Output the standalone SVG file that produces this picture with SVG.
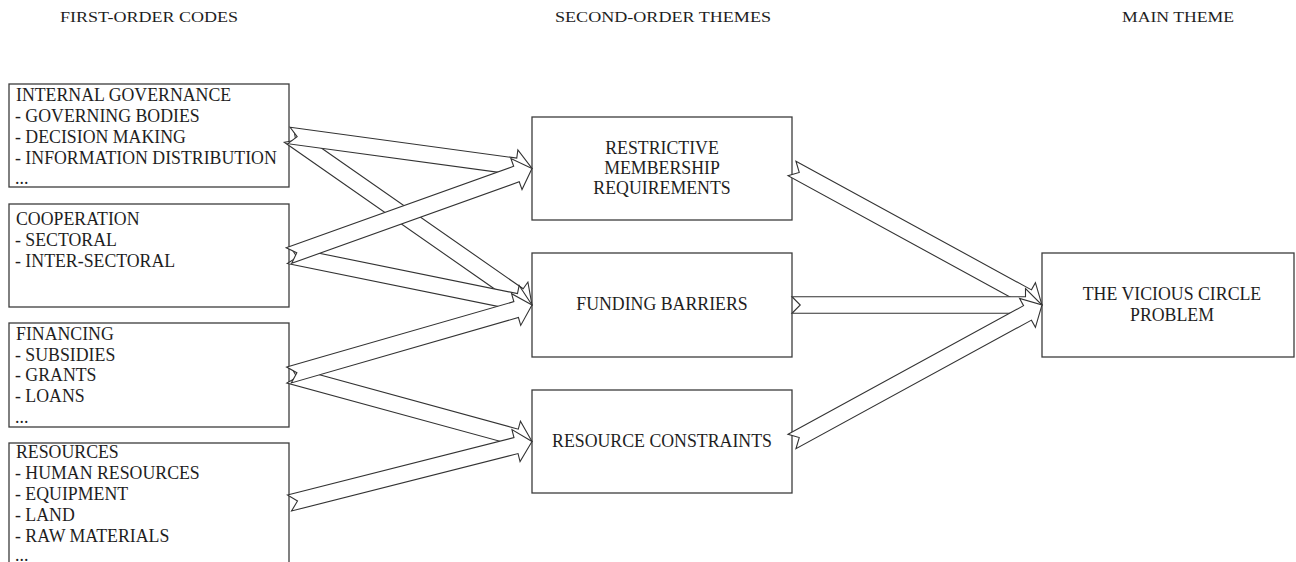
<svg xmlns="http://www.w3.org/2000/svg" width="1296" height="562" viewBox="0 0 1296 562">
<style>
.box{fill:#fff;stroke:#3c3c3c;stroke-width:1.3}
.t{font-family:"Liberation Serif","Times New Roman",serif;font-size:17.8px;fill:#1e1e1e}
.c{text-anchor:middle}
.h{font-family:"Liberation Serif","Times New Roman",serif;font-size:15.5px;fill:#1e1e1e}
.arr{fill:#fff;stroke:#333;stroke-width:1.1;stroke-linejoin:miter}
</style>
<rect width="1296" height="562" fill="#fff"/>
<g id="headers">
<text class="h" x="60" y="22" textLength="178" lengthAdjust="spacingAndGlyphs">FIRST-ORDER CODES</text>
<text class="h" x="555" y="22" textLength="216" lengthAdjust="spacingAndGlyphs">SECOND-ORDER THEMES</text>
<text class="h" x="1122" y="22" textLength="112" lengthAdjust="spacingAndGlyphs">MAIN THEME</text>
</g>
<g id="internal-governance">
<rect class="box" x="9" y="84" width="280" height="103"/>
<text class="t" x="16" y="101">INTERNAL GOVERNANCE</text>
<text class="t" x="15" y="122">- GOVERNING BODIES</text>
<text class="t" x="15" y="143">- DECISION MAKING</text>
<text class="t" x="15" y="164">- INFORMATION DISTRIBUTION</text>
<text class="t" x="15" y="184">...</text>
</g>
<g id="cooperation">
<rect class="box" x="9" y="204" width="280" height="103"/>
<text class="t" x="16" y="225">COOPERATION</text>
<text class="t" x="15" y="246">- SECTORAL</text>
<text class="t" x="15" y="267">- INTER-SECTORAL</text>
</g>
<g id="financing">
<rect class="box" x="9" y="323" width="280" height="104"/>
<text class="t" x="16" y="339.5">FINANCING</text>
<text class="t" x="15" y="360.5">- SUBSIDIES</text>
<text class="t" x="15" y="381">- GRANTS</text>
<text class="t" x="15" y="402">- LOANS</text>
<text class="t" x="15" y="423">...</text>
</g>
<g id="resources">
<rect class="box" x="9" y="443" width="280" height="140"/>
<text class="t" x="16" y="457.5">RESOURCES</text>
<text class="t" x="15" y="478.5">- HUMAN RESOURCES</text>
<text class="t" x="15" y="499.5">- EQUIPMENT</text>
<text class="t" x="15" y="520.5">- LAND</text>
<text class="t" x="15" y="541.5">- RAW MATERIALS</text>
<text class="t" x="15" y="561">...</text>
</g>
<g id="restrictive-membership">
<rect class="box" x="532" y="117" width="260" height="103"/>
<text class="t c" x="662" y="153.5">RESTRICTIVE</text>
<text class="t c" x="662" y="173.5">MEMBERSHIP</text>
<text class="t c" x="662" y="194">REQUIREMENTS</text>
</g>
<g id="funding-barriers">
<rect class="box" x="532" y="253" width="260" height="104"/>
<text class="t c" x="662" y="310">FUNDING BARRIERS</text>
</g>
<g id="resource-constraints">
<rect class="box" x="532" y="390" width="260" height="103"/>
<text class="t c" x="662" y="447">RESOURCE CONSTRAINTS</text>
</g>
<g id="vicious-circle">
<rect class="box" x="1042" y="253" width="252" height="104"/>
<text class="t c" x="1172" y="300">THE VICIOUS CIRCLE</text>
<text class="t c" x="1172" y="321">PROBLEM</text>
</g>
<g id="connectors">
<polygon class="arr" transform="translate(289,135.5) rotate(34.90)" points="0,-8.25 279.78,-8.25 279.78,-16.5 296.28,0 279.78,16.5 279.78,8.25 0,8.25 8.25,0"/>
<polygon class="arr" transform="translate(289,135.5) rotate(7.734)" points="0,-8.25 228.73,-8.25 228.73,-16.5 245.23,0 228.73,16.5 228.73,8.25 0,8.25 8.25,0"/>
<polygon class="arr" transform="translate(289,255.5) rotate(11.51)" points="0,-8.25 231.49,-8.25 231.49,-16.5 247.99,0 231.49,16.5 231.49,8.25 0,8.25 8.25,0"/>
<polygon class="arr" transform="translate(289,255.5) rotate(-19.70)" points="0,-8.25 241.6,-8.25 241.6,-16.5 258.1,0 241.6,16.5 241.6,8.25 0,8.25 8.25,0"/>
<polygon class="arr" transform="translate(289,375) rotate(15.30)" points="0,-8.25 235.44,-8.25 235.44,-16.5 251.94,0 235.44,16.5 235.44,8.25 0,8.25 8.25,0"/>
<polygon class="arr" transform="translate(289,375) rotate(-16.07)" points="0,-8.25 236.38,-8.25 236.38,-16.5 252.88,0 236.38,16.5 236.38,8.25 0,8.25 8.25,0"/>
<polygon class="arr" transform="translate(289.5,503) rotate(-14.23)" points="0,-8.25 233.68,-8.25 233.68,-16.5 250.18,0 233.68,16.5 233.68,8.25 0,8.25 8.25,0"/>
<polygon class="arr" transform="translate(792,168.5) rotate(28.64)" points="0,-8.25 268.34,-8.25 268.34,-16.5 284.84,0 268.34,16.5 268.34,8.25 0,8.25 8.25,0"/>
<polygon class="arr" transform="translate(792,305) rotate(0)" points="0,-8.25 233.5,-8.25 233.5,-16.5 250,0 233.5,16.5 233.5,8.25 0,8.25 8.25,0"/>
<polygon class="arr" transform="translate(792,441.5) rotate(-28.64)" points="0,-8.25 268.34,-8.25 268.34,-16.5 284.84,0 268.34,16.5 268.34,8.25 0,8.25 8.25,0"/>
</g>
</svg>
